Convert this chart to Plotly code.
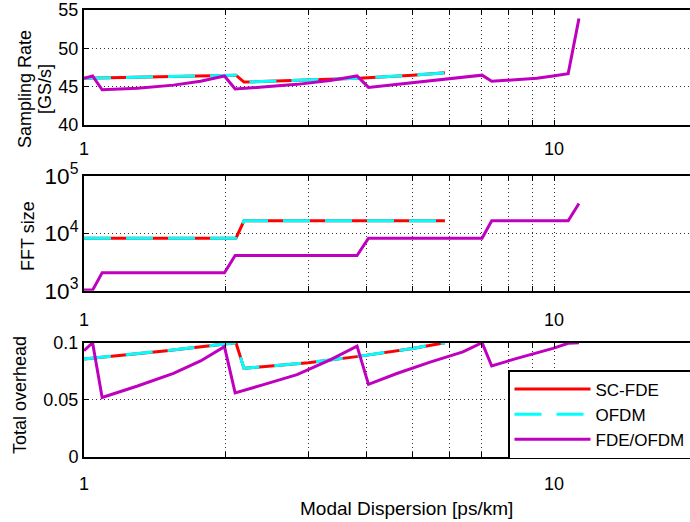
import plotly.graph_objects as go

# ---------------- data ----------------
# SC-FDE and OFDM (overlapping curves)
sc_x = [1.0, 1.5, 2.105, 2.19, 3.0, 3.84, 5.0, 5.86]
sc_rate = [46.1, 46.3, 46.5, 45.6, 45.9, 46.1, 46.5, 46.8]
sc_fft = [8192, 8192, 8192, 16384, 16384, 16384, 16384, 16384]
sc_ovh = [0.0857, 0.093, 0.1, 0.0775, 0.0825, 0.088, 0.095, 0.1]

ofdm_x = [1.0, 1.5, 2.105, 2.19, 3.0, 3.84, 5.0, 5.86]
ofdm_rate = [46.1, 46.3, 46.5, 45.6, 45.9, 46.1, 46.5, 46.8]
ofdm_fft = [8192, 8192, 8192, 16384, 16384, 16384, 16384, 16384]
ofdm_ovh = [0.0857, 0.093, 0.1, 0.0775, 0.0825, 0.088, 0.095, 0.1]

# FDE/OFDM
fde_x = [1.0, 1.043, 1.093, 1.3, 1.55, 1.77, 1.99, 2.097, 2.4, 2.84, 3.34, 3.81,
         4.03, 4.63, 5.45, 6.4, 7.03, 7.37, 8.3, 9.2, 9.95, 10.72, 11.3]
fde_rate = [46.1, 46.4, 44.6, 44.8, 45.2, 45.7, 46.4, 44.7, 44.95, 45.3, 45.8, 46.4,
            44.9, 45.3, 45.7, 46.2, 46.5, 45.7, 45.9, 46.1, 46.4, 46.7, 53.9]
fde_fft = [1024, 1024, 2048, 2048, 2048, 2048, 2048, 4096, 4096, 4096, 4096, 4096,
           8192, 8192, 8192, 8192, 8192, 16384, 16384, 16384, 16384, 16384, 32768]
fde_ovh = [0.093, 0.1, 0.052, 0.062, 0.073, 0.084, 0.0965, 0.056, 0.063, 0.072, 0.085, 0.097,
           0.0635, 0.073, 0.083, 0.092, 0.1, 0.0796, 0.086, 0.091, 0.095, 0.0995, 0.1]

x_tickvals = [1, 2, 3, 4, 5, 6, 7, 8, 9, 10, 20]
x_ticktext = ["1", "", "", "", "", "", "", "", "", "10", ""]

rate_ticks = [40, 45, 50, 55]
ovh_ticks = [0, 0.05, 0.1]
ovh_ticktext = ["0", "0.05", "0.1"]

series_names = ["SC-FDE", "OFDM", "FDE/OFDM"]

# ---------------- figure ----------------
W, H = 690, 522
L = 84
FONT = "Liberation Sans, Arial, Helvetica, sans-serif"
RED = "#FF0000"
CYAN = "#00FFFF"
MAG = "#BF00BF"
GRID = "#333333"
GDASH = "1px,3px"

fig = go.Figure()

rows = [
    ("x", "y", sc_rate, ofdm_rate, fde_rate),
    ("x2", "y2", sc_fft, ofdm_fft, fde_fft),
    ("x3", "y3", sc_ovh, ofdm_ovh, fde_ovh),
]
for i, (xa, ya, s_vals, o_vals, f_vals) in enumerate(rows):
    show = (i == 2)
    fig.add_trace(go.Scatter(x=sc_x, y=s_vals, mode="lines", name=series_names[0],
                             line=dict(color=RED, width=3), xaxis=xa, yaxis=ya,
                             showlegend=show, legendgroup="a"))
    fig.add_trace(go.Scatter(x=ofdm_x, y=o_vals, mode="lines", name=series_names[1],
                             line=dict(color=CYAN, width=3, dash="27px,15px"), xaxis=xa, yaxis=ya,
                             showlegend=show, legendgroup="b"))
    fig.add_trace(go.Scatter(x=fde_x, y=f_vals, mode="lines", name=series_names[2],
                             line=dict(color=MAG, width=3), xaxis=xa, yaxis=ya,
                             showlegend=show, legendgroup="c"))

def xaxis_cfg(anchor, standoff):
    return dict(
        type="log", range=[0, (W - L) / 470.0], domain=[0, 1], anchor=anchor,
        tickvals=x_tickvals, ticktext=x_ticktext,
        showgrid=True, gridcolor=GRID, gridwidth=1, griddash=GDASH,
        showline=True, linecolor="black", linewidth=2, mirror="ticks",
        ticks="inside", ticklen=5, tickcolor="black", ticklabelstandoff=standoff,
        tickfont=dict(family=FONT, size=18, color="black"),
        zeroline=False,
    )

def yaxis_cfg(anchor, dom):
    return dict(
        domain=dom, anchor=anchor,
        showgrid=True, gridcolor=GRID, gridwidth=1, griddash=GDASH,
        showline=True, linecolor="black", linewidth=2, mirror=False,
        ticks="inside", ticklen=5, tickcolor="black",
        tickfont=dict(family=FONT, size=18, color="black"),
        zeroline=False,
    )

def dom(top_px, bot_px):
    return [1 - bot_px / H, 1 - top_px / H]

y1 = yaxis_cfg("x", dom(10, 125))
y1.update(range=[40, 55], tickvals=rate_ticks)
y2 = yaxis_cfg("x2", dom(175.7, 290.7))
y2.update(type="log", range=[3, 5], dtick=1, exponentformat="power", showexponent="all")
y3 = yaxis_cfg("x3", dom(342.7, 456.7))
y3.update(range=[0, 0.1], tickvals=ovh_ticks, ticktext=ovh_ticktext)

def px_x(px):
    return (px - L) / (W - L)

def px_y(py):
    return 1 - py / H

annots = [
    dict(text="Sampling Rate", x=px_x(25), y=px_y(89), textangle=-90, size=18),
    dict(text="[GS/s]", x=px_x(45), y=px_y(89), textangle=-90, size=18),
    dict(text="FFT size", x=px_x(28), y=px_y(236), textangle=-90, size=18),
    dict(text="Total overhead", x=px_x(20), y=px_y(395), textangle=-90, size=18),
    dict(text="Modal Dispersion [ps/km]", x=px_x(406), y=px_y(508), textangle=0, size=19),
]
for a in annots:
    sz = a.pop("size")
    a.update(xref="paper", yref="paper", xanchor="center", yanchor="middle",
             showarrow=False, font=dict(family=FONT, size=sz, color="black"))

fig.update_layout(
    width=W, height=H,
    margin=dict(l=L, r=0, t=0, b=0, pad=0, autoexpand=False),
    paper_bgcolor="white", plot_bgcolor="white",
    font=dict(family=FONT, size=18, color="black"),
    xaxis=xaxis_cfg("y", 6), xaxis2=xaxis_cfg("y2", 12), xaxis3=xaxis_cfg("y3", 10),
    yaxis=y1, yaxis2=y2, yaxis3=y3,
    annotations=annots,
    showlegend=True,
    legend=dict(
        x=px_x(508), y=px_y(370), xanchor="left", yanchor="top",
        bgcolor="white", bordercolor="black", borderwidth=1.5,
        font=dict(family=FONT, size=17, color="black"),
        itemwidth=76, tracegroupgap=0,
    ),
)

fig.write_html("out.html")
